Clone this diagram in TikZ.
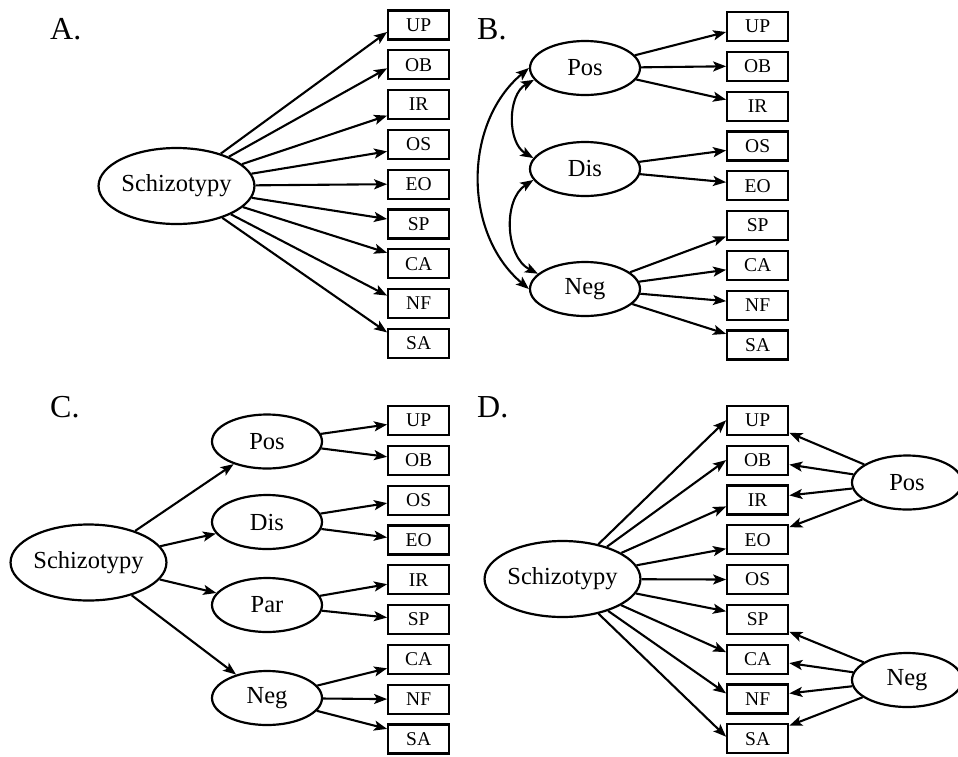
\documentclass[tikz,border=0pt]{standalone}
\usepackage{fontspec}
\setmainfont{Liberation Serif}
\usetikzlibrary{arrows.meta, shapes.geometric, positioning}

\begin{document}
\begin{tikzpicture}[
  x=1pt, y=-1pt,
  node distance = 8.6pt,
  lat/.style = {
    ellipse, draw=black, line width=2.2pt,
    minimum width=110pt, minimum height=54pt,
    inner sep=0pt, font=\fontsize{24.5}{28}\selectfont
  },
  biglat/.style = {lat, minimum width=151pt, minimum height=76pt},
  obs/.style = {
    rectangle, draw=black, line width=2.2pt,
    minimum width=61pt, minimum height=29pt,
    inner sep=0pt, font=\fontsize{19.5}{22}\selectfont
  },
  arr/.style = {-{Stealth[length=13pt, width=10pt, inset=3pt]}, line width=2.1pt},
  cov/.style = {{Stealth[length=13pt, width=10pt, inset=3pt]}-{Stealth[length=13pt, width=10pt, inset=3pt]}, line width=2.1pt},
  lab/.style = {anchor=base west, inner sep=0pt, font=\fontsize{32}{36}\selectfont}
]
\useasboundingbox (0,0) rectangle (958,756);

% A. one factor
\node[lab] (labA) at (50,39) {A.};
\node[biglat] (schA) at (176.5,186) {Schizotypy};
\node[obs] (upA) at (418.7,25) {UP};
\node[obs, below=of upA] (obA) {OB};
\node[obs, below=of obA] (irA) {IR};
\node[obs, below=of irA] (osA) {OS};
\node[obs, below=of osA] (eoA) {EO};
\node[obs, below=of eoA] (spA) {SP};
\node[obs, below=of spA] (caA) {CA};
\node[obs, below=of caA] (nfA) {NF};
\node[obs, below=of nfA] (saA) {SA};

\draw[arr] (schA) -- ([yshift=-7pt]upA.west);
\draw[arr] (schA) -- ([yshift=-3.5pt]obA.west);
\draw[arr] (schA) -- ([yshift=-11pt]irA.west);
\draw[arr] (schA) -- ([yshift=-7pt]osA.west);
\draw[arr] (schA) -- (eoA.west);
\draw[arr] (schA) -- ([yshift=5pt]spA.west);
\draw[arr] (schA) -- ([yshift=11pt]caA.west);
\draw[arr] (schA) -- ([yshift=8pt]nfA.west);
\draw[arr] (schA) -- ([yshift=11pt]saA.west);

% B. three correlated factors
\node[lab] (labB) at (477,39) {B.};
\node[lat] (posB) at (585,68) {Pos};
\node[lat] (disB) at (585,169) {Dis};
\node[lat] (negB) at (585,289) {Neg};
\node[obs] (upB) at (757.7,26.5) {UP};
\node[obs, below=of upB] (obB) {OB};
\node[obs, below=of obB] (irB) {IR};
\node[obs, below=of irB] (osB) {OS};
\node[obs, below=of osB] (eoB) {EO};
\node[obs, below=of eoB] (spB) {SP};
\node[obs, below=of spB] (caB) {CA};
\node[obs, below=of caB] (nfB) {NF};
\node[obs, below=of nfB] (saB) {SA};

\draw[arr] (posB) -- ([yshift=-5.5pt]upB.west);
\draw[arr] (posB) -- (obB.west);
\draw[arr] (posB) -- ([yshift=6.5pt]irB.west);
\draw[arr] (disB) -- ([yshift=-4.5pt]osB.west);
\draw[arr] (disB) -- ([yshift=3.5pt]eoB.west);
\draw[arr] (negB) -- ([yshift=-11pt]spB.west);
\draw[arr] (negB) -- ([yshift=-4.5pt]caB.west);
\draw[arr] (negB) -- ([yshift=4pt]nfB.west);
\draw[arr] (negB) -- ([yshift=11pt]saB.west);

\draw[cov] (posB.193) to[bend right=60] (disB.168);
\draw[cov] (disB.192) to[bend right=60] (negB.162);
\draw[cov] (posB.west) to[bend right=50] (negB.west);

% C. second order
\node[lab] (labC) at (50,417) {C.};
\node[biglat] (schC) at (88.5,562.5) {Schizotypy};
\node[lat] (posC) at (267,441.5) {Pos};
\node[lat] (disC) at (267,522) {Dis};
\node[lat] (parC) at (267,605) {Par};
\node[lat] (negC) at (267,698) {Neg};
\node[obs] (upC) at (418.7,420.5) {UP};
\node[obs, below=of upC] (obC) {OB};
\node[obs, below=of obC] (osC) {OS};
\node[obs, below=of osC] (eoC) {EO};
\node[obs, below=of eoC] (irC) {IR};
\node[obs, below=of irC] (spC) {SP};
\node[obs, below=of spC] (caC) {CA};
\node[obs, below=of caC] (nfC) {NF};
\node[obs, below=of nfC] (saC) {SA};

\draw[arr] (schC) -- (posC);
\draw[arr] (schC) -- (disC);
\draw[arr] (schC) -- (parC);
\draw[arr] (schC) -- (negC);
\draw[arr] (posC) -- ([yshift=-4pt]upC.west);
\draw[arr] (posC) -- ([yshift=3.5pt]obC.west);
\draw[arr] (disC) -- ([yshift=-3pt]osC.west);
\draw[arr] (disC) -- ([yshift=2.5pt]eoC.west);
\draw[arr] (parC) -- ([yshift=-4.5pt]irC.west);
\draw[arr] (parC) -- ([yshift=2pt]spC.west);
\draw[arr] (negC) -- ([yshift=-9pt]caC.west);
\draw[arr] (negC) -- (nfC.west);
\draw[arr] (negC) -- ([yshift=10pt]saC.west);

% D. bifactor
\node[lab] (labD) at (477,417) {D.};
\node[biglat] (schD) at (562.5,579) {Schizotypy};
\node[lat] (posD) at (907,482.5) {Pos};
\node[lat] (negD) at (907,680) {Neg};
\node[obs] (upD) at (757.7,420.3) {UP};
\node[obs, below=of upD] (obD) {OB};
\node[obs, below=of obD] (irD) {IR};
\node[obs, below=of irD] (eoD) {EO};
\node[obs, below=of eoD] (osD) {OS};
\node[obs, below=of osD] (spD) {SP};
\node[obs, below=of spD] (caD) {CA};
\node[obs, below=of caD] (nfD) {NF};
\node[obs, below=of nfD] (saD) {SA};

\draw[arr] (schD) -- (upD.west);
\draw[arr] (schD) -- (obD.west);
\draw[arr] (schD) -- ([yshift=-6.5pt]irD.west);
\draw[arr] (schD) -- ([yshift=-9pt]eoD.west);
\draw[arr] (schD) -- (osD.west);
\draw[arr] (schD) -- ([yshift=8pt]spD.west);
\draw[arr] (schD) -- ([yshift=7pt]caD.west);
\draw[arr] (schD) -- ([yshift=5.5pt]nfD.west);
\draw[arr] (schD) -- ([yshift=2pt]saD.west);

\draw[arr] (posD) -- ([yshift=-12.5pt]upD.east);
\draw[arr] (posD) -- ([yshift=-4.5pt]obD.east);
\draw[arr] (posD) -- ([yshift=4.5pt]irD.east);
\draw[arr] (posD) -- ([yshift=12.5pt]eoD.east);
\draw[arr] (negD) -- ([yshift=-12.5pt]spD.east);
\draw[arr] (negD) -- ([yshift=-4pt]caD.east);
\draw[arr] (negD) -- ([yshift=5.5pt]nfD.east);
\draw[arr] (negD) -- ([yshift=13pt]saD.east);
\end{tikzpicture}
\end{document}
